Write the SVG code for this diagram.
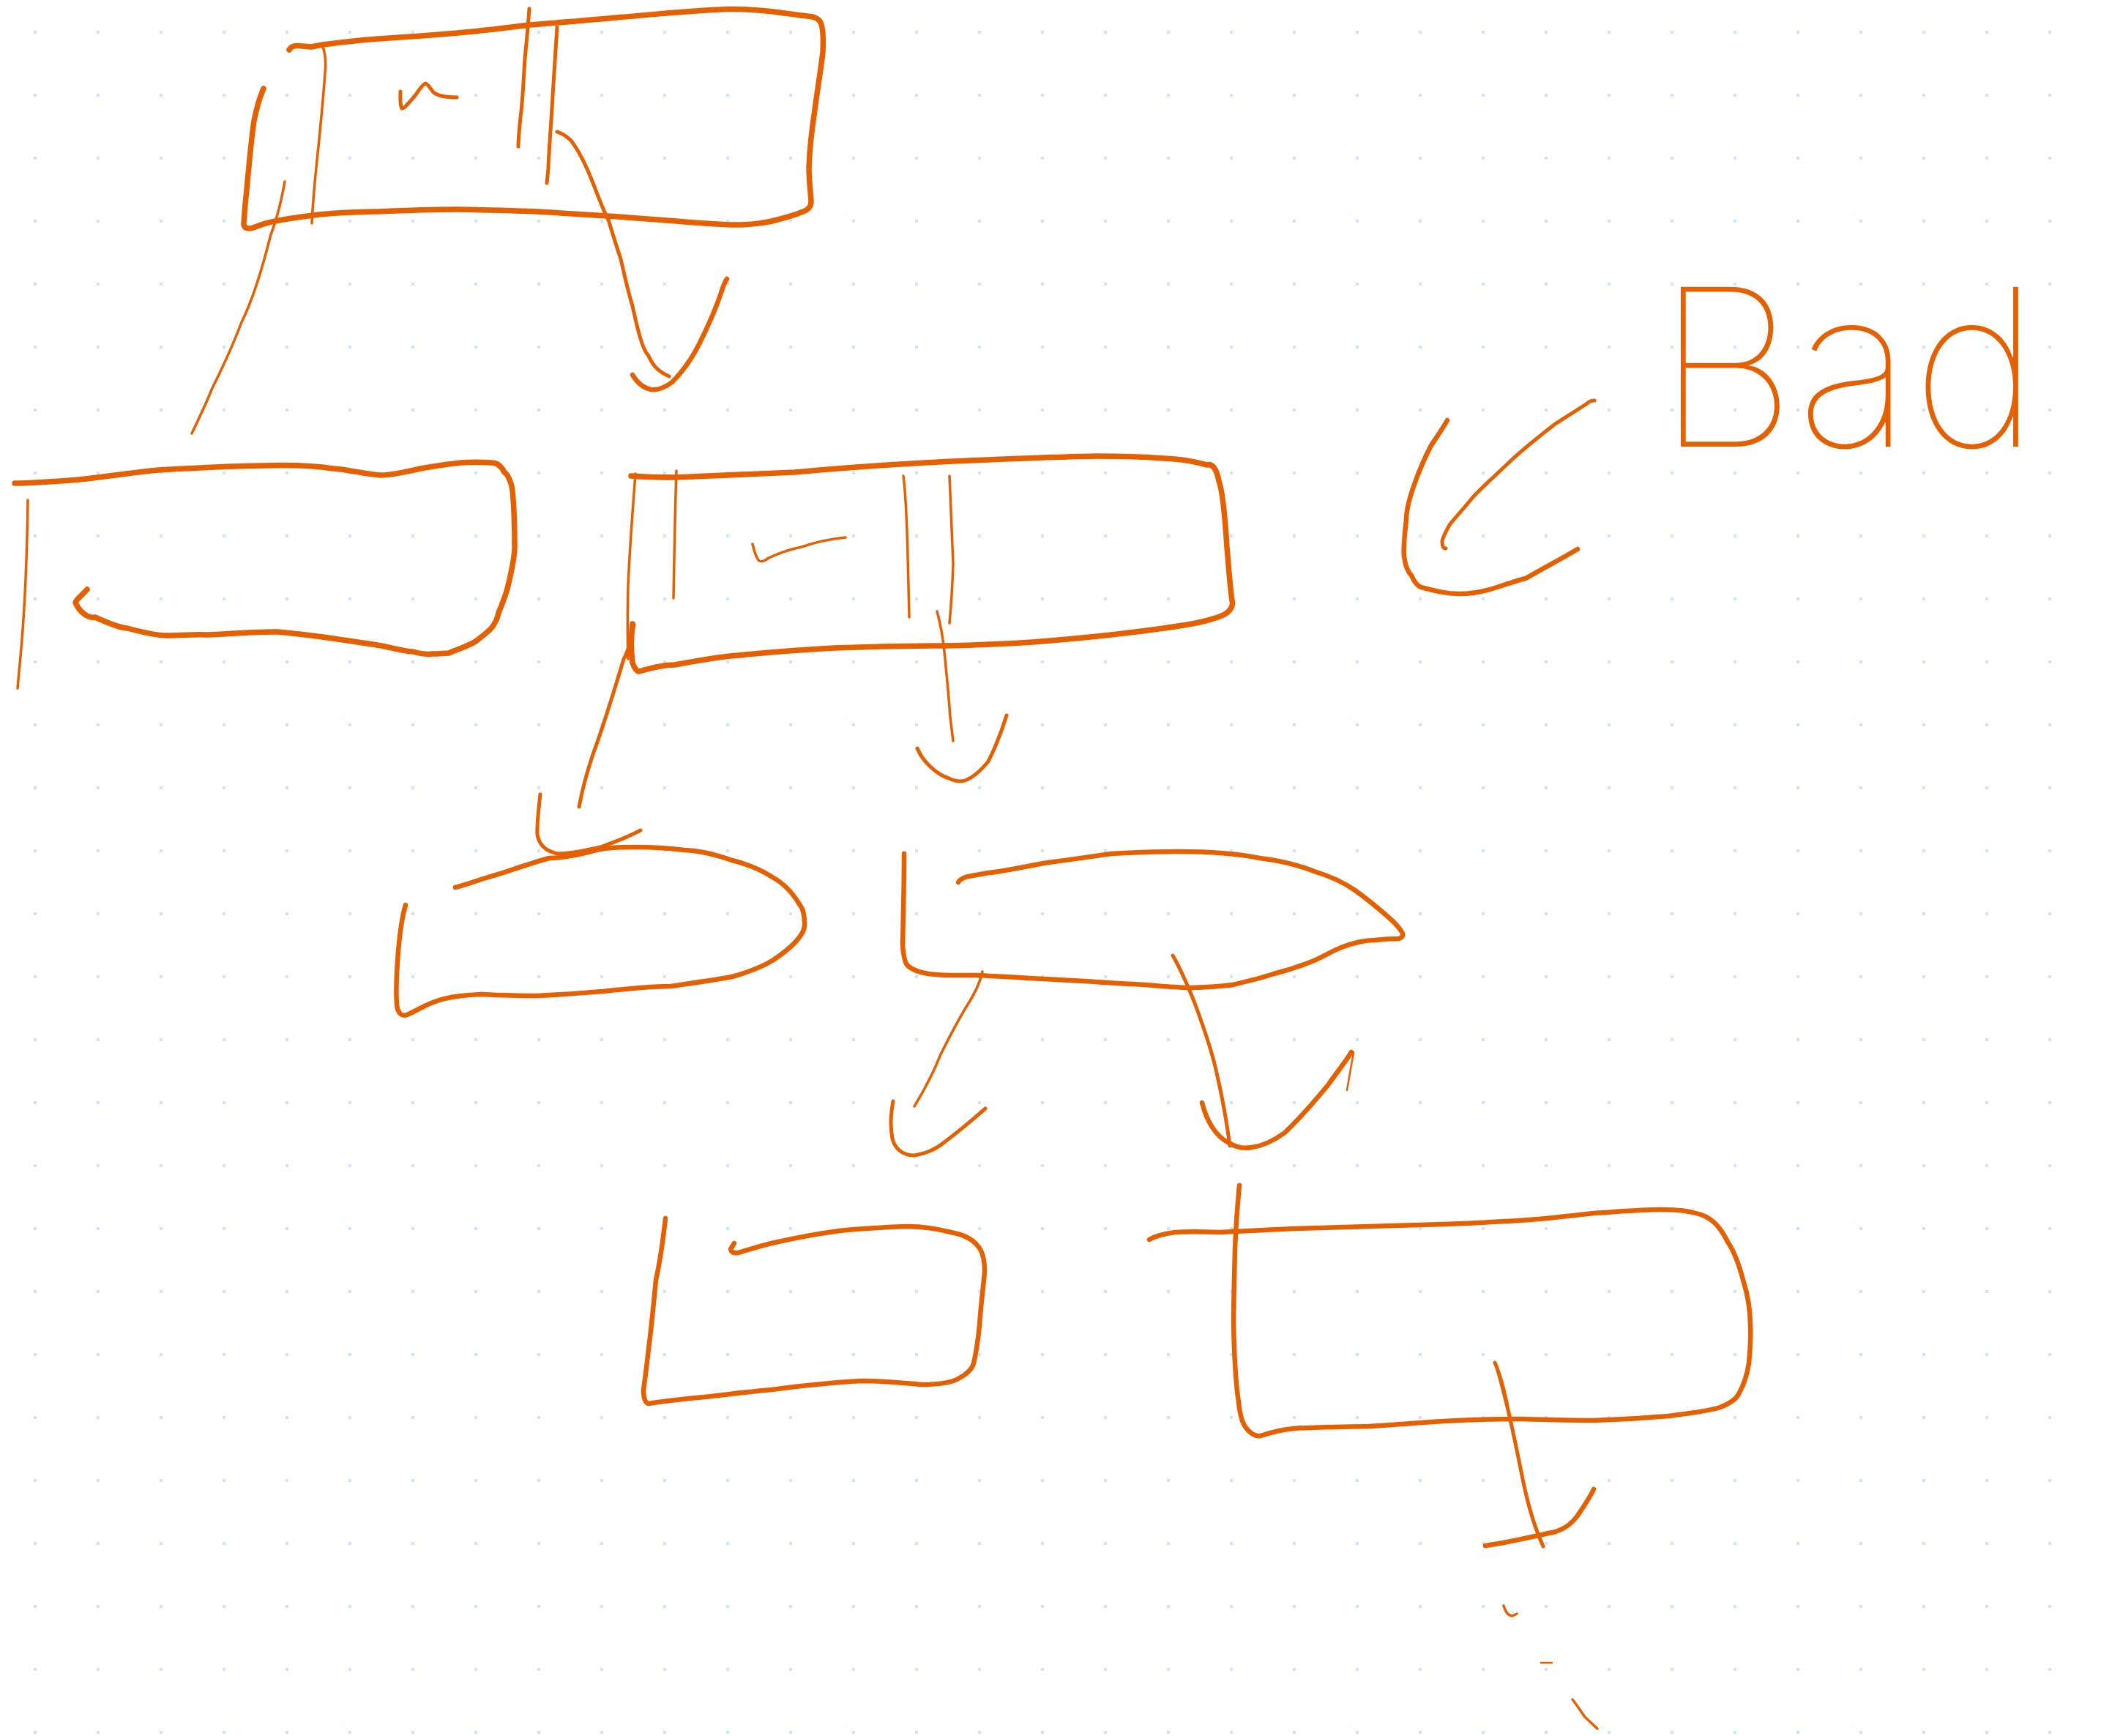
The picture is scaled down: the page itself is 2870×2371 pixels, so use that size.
<svg xmlns="http://www.w3.org/2000/svg" width="2870" height="2371" viewBox="0 0 2870 2371">
<defs>
<pattern id="dots" x="0" y="0" width="86" height="86" patternUnits="userSpaceOnUse">
<rect x="46" y="42" width="4" height="4" fill="#cfe2fb"/>
</pattern>
<style>
.s{fill:none;stroke:#e46000;stroke-linecap:round;stroke-linejoin:round}
.w6{stroke-width:7.5}
.w5{stroke-width:6.5}
.w4{stroke-width:5}
.w3{stroke-width:3.5}
.w2{stroke-width:2.5}
.lbl{font-family:Inter,"Liberation Sans",sans-serif;font-weight:100;fill:#e46000}
</style>
</defs>
<rect width="2870" height="2371" fill="#ffffff"/>
<rect width="2870" height="2371" fill="url(#dots)"/>

<g id="node-1">
<path class="s w6" d="M360,121 C356,130 350,150 347,165 C343,190 339,240 335,279 C334,292 333,302 333,307 C334,312 340,313 346,311 C356,307 370,303 376,302 C400,297 420,295 436,293 C470,290 500,289 517,289 C560,287 600,286 625,286 C680,287 710,288 734,289 C770,291 800,293 831,295 C870,298 900,300 924,302 C960,305 985,307 1005,307 C1030,307 1050,303 1054,302 C1075,297 1090,292 1097,289 C1105,286 1108,282 1108,275 C1107,260 1105,245 1105,229 C1106,200 1110,170 1113,150 C1117,120 1122,90 1124,71 C1125,50 1124,35 1120,29 C1115,23 1110,23 1103,22 C1070,18 1040,12 994,12.5 C950,14 900,19 842,24 C800,28 760,31 723,34 C690,38 660,42 625,45 C590,48 550,51 517,53 C490,55 465,58 441,61 L425,64 C412,63 404,61 399,64 C397,65 396,67 395,68"/>
<path class="s w3" d="M441,64 C445,75 445,90 444,100 C441,140 438,170 436,190 C432,230 428,260 426,305"/>
<path class="s w4" d="M547,125 C547,135 546,144 549,148 C552,149 560,138 566,132 C572,124 576,116 581,114 C584,114 588,121 592,126 C598,131 608,133 624,133"/>
<path class="s w4" d="M723,12 C721,40 719,60 717,80 C715,110 714,140 711,160 C709,180 708,195 708,200"/>
<path class="s w4" d="M761,37 C759,70 757,100 755,130 C753,170 750,200 749,230 L747,250"/>
</g>

<g id="node-2">
<path class="s w6" d="M119,805 C110,815 103,820 103,823 C108,835 120,845 130,843 C150,852 165,858 174,858 C200,865 215,868 228,868 C250,868 265,866 282,867 C320,866 350,862 380,863 C410,866 435,869 455,872 C480,876 505,879 521,882 C540,886 555,890 564,890 C575,893 585,894 591,893 C600,893 607,892 613,892 C630,885 645,880 651,875 C660,868 668,862 672,857 C677,850 680,843 681,837 C688,820 692,810 694,800 C700,775 703,760 703,747 C703,720 702,690 700,670 C699,660 694,648 689,645 C684,635 678,632 672,632 C655,631 640,631 629,632 C610,634 598,636 586,638 C565,641 540,649 521,649 C500,648 475,641 455,640 C430,636 390,635 358,636 C300,637 250,640 217,642 C180,645 140,652 108,655 C70,658 40,660 20,660"/>
<path class="s w3" d="M38,683 C37,750 34,820 31,860 C29,890 26,915 24,940"/>
</g>

<g id="node-3">
<path class="s w6" d="M864,852 C862,870 862,890 864,905 C866,912 870,917 873,917 C890,912 910,908 922,908 C950,903 980,897 1009,895 C1060,890 1100,887 1139,885 C1190,883 1240,882 1291,882 C1340,881 1380,879 1410,877 C1450,874 1490,870 1518,867 C1570,861 1610,856 1638,850 C1660,845 1672,840 1676,837 C1684,830 1684,825 1683,820 C1680,800 1678,770 1676,747 C1673,700 1670,670 1665,657 C1662,640 1656,633 1649,635 C1630,630 1620,628 1605,627 C1570,624 1530,623 1497,623 C1440,624 1370,627 1302,630 C1220,634 1140,640 1085,645 C1010,648 950,651 922,652 C895,652 875,651 862,650"/>
<path class="s w3" d="M868,647 C864,700 860,750 858,800 C857,840 857,870 858,900"/>
<path class="s w3" d="M924,643 C922,700 921,760 920,817"/>
<path class="s w3" d="M1028,743 C1030,752 1033,762 1037,766 C1042,768 1046,765 1050,762 C1065,755 1080,750 1095,747 C1115,740 1135,736 1155,734"/>
<path class="s w3" d="M1234,650 C1238,680 1239,720 1240,760 L1242,843"/>
<path class="s w3" d="M1297,650 C1299,700 1301,740 1302,770 C1301,800 1299,830 1297,851"/>
</g>

<g id="node-4">
<path class="s w5" d="M554,1236 C547,1260 544,1290 542,1330 C541,1355 541,1370 543,1378 C546,1386 550,1388 556,1386 C565,1382 572,1378 580,1374 C595,1367 610,1360 657,1358 C680,1359 705,1360 731,1360 C765,1359 795,1356 824,1354 C860,1350 890,1347 916,1347 C950,1342 980,1338 1000,1334 C1025,1327 1045,1318 1055,1312 C1070,1302 1080,1294 1087,1286 C1097,1275 1100,1268 1099,1258 C1098,1245 1096,1240 1092,1235 C1080,1215 1068,1205 1055,1198 C1040,1188 1020,1180 1000,1175 C980,1168 960,1162 935,1161 C910,1158 885,1157 870,1157 C845,1157 825,1158 815,1161 C790,1168 770,1172 750,1172 C720,1180 690,1192 667,1198 C645,1205 630,1210 622,1212"/>
</g>

<g id="node-5">
<path class="s w5" d="M1235,1166 C1235,1200 1234,1250 1233,1290 C1234,1305 1236,1315 1240,1319 C1248,1326 1258,1328 1268,1330 C1290,1333 1310,1332 1333,1332 C1360,1333 1385,1335 1407,1336 C1440,1338 1460,1339 1481,1340 C1510,1342 1540,1344 1564,1345 C1590,1347 1610,1349 1629,1349 C1655,1348 1670,1347 1684,1345 C1705,1340 1725,1335 1740,1330 C1760,1325 1780,1318 1795,1312 C1810,1305 1822,1298 1832,1294 C1848,1288 1865,1284 1878,1284 C1895,1282 1905,1282 1911,1282 C1917,1280 1917,1276 1915,1273 C1910,1265 1905,1260 1897,1253 C1880,1238 1865,1226 1851,1216 C1835,1205 1815,1196 1795,1190 C1770,1180 1745,1175 1721,1172 C1690,1166 1650,1163 1610,1163 C1570,1163 1540,1165 1518,1166 C1490,1170 1455,1175 1425,1179 C1395,1185 1370,1190 1351,1192 C1335,1195 1325,1196 1319,1198 C1313,1200 1310,1203 1309,1205"/>
</g>

<g id="node-6">
<path class="s w5" d="M909,1664 C905,1700 900,1730 896,1748 C892,1790 889,1820 886,1842 C883,1870 880,1890 879,1899 C879,1910 882,1917 886,1917 C905,1914 930,1911 952,1909 C990,1905 1020,1901 1054,1898 C1100,1892 1140,1888 1177,1886 C1210,1886 1235,1889 1258,1891 C1280,1891 1300,1888 1309,1883 C1322,1876 1328,1870 1330,1862 C1334,1845 1336,1830 1338,1810 C1340,1780 1343,1760 1345,1737 C1345,1720 1342,1708 1335,1701 C1328,1692 1315,1686 1299,1683 C1280,1678 1260,1675 1238,1675 C1210,1676 1180,1678 1156,1680 C1120,1684 1085,1691 1054,1698 C1030,1704 1015,1709 1008,1711 C1002,1712 999,1710 998,1706 L1003,1698"/>
</g>

<g id="node-7">
<path class="s w5" d="M1693,1619 C1690,1650 1688,1680 1687,1706 C1686,1750 1685,1780 1685,1810 C1686,1850 1688,1890 1692,1915 C1694,1935 1698,1945 1702,1950 C1708,1958 1715,1962 1722,1961 C1740,1955 1755,1952 1768,1951 C1800,1949 1835,1949 1870,1948 C1905,1946 1940,1943 1972,1941 C2005,1939 2040,1938 2074,1938 C2110,1939 2145,1940 2177,1940 C2210,1939 2245,1937 2279,1934 C2310,1930 2335,1927 2350,1922 C2365,1916 2372,1910 2375,1904 C2383,1890 2387,1875 2389,1862 C2391,1840 2392,1825 2391,1810 C2391,1790 2388,1770 2381,1748 C2375,1725 2368,1708 2360,1696 C2350,1676 2340,1665 2324,1659 C2305,1653 2290,1652 2268,1652 C2240,1652 2210,1655 2177,1657 C2140,1661 2110,1665 2074,1667 C2040,1669 2005,1671 1972,1672 C1935,1673 1900,1674 1870,1675 C1835,1676 1800,1677 1768,1678 C1730,1680 1700,1681 1666,1683 C1640,1682 1620,1682 1605,1683 C1590,1685 1578,1688 1570,1693"/>
</g>

<g id="connectors">
<path class="s w4" d="M761,180 C768,182 775,187 780,192 C790,205 800,225 808,245 C818,270 825,290 831,300 C840,330 845,345 848,354 C855,385 860,405 864,418 C872,455 878,478 886,486 C892,500 900,508 914,514"/>
<path class="s w5" d="M864,512 C870,522 878,530 890,532 C900,533 910,528 918,522 C930,510 945,490 955,470 C970,440 980,415 985,400 C988,390 990,385 993,381"/>
<path class="s w3" d="M389,248 C385,270 378,300 370,320 C360,360 345,410 330,440 C315,480 300,510 290,530 C280,555 270,575 262,592"/>
<path class="s w4" d="M866,853 C863,870 858,890 852,900 C840,940 825,990 810,1030 C800,1060 795,1080 791,1102"/>
<path class="s w4" d="M738,1085 C736,1105 733,1125 734,1140 C737,1155 745,1162 762,1166 C785,1166 805,1160 820,1157 C840,1150 860,1142 875,1134"/>
<path class="s w3" d="M1280,835 C1284,850 1288,870 1290,890 C1293,920 1296,950 1298,980 C1300,995 1301,1005 1302,1012"/>
<path class="s w4" d="M1253,1022 C1260,1040 1280,1058 1296,1063 C1305,1067 1312,1068 1318,1066 C1330,1062 1340,1052 1350,1040 C1360,1020 1368,1000 1375,977"/>
<path class="s w3" d="M1342,1327 C1338,1345 1330,1360 1320,1375 C1305,1400 1295,1420 1285,1440 C1275,1465 1262,1490 1249,1511"/>
<path class="s w4" d="M1220,1504 C1217,1520 1216,1540 1219,1555 C1222,1568 1232,1578 1249,1578 C1262,1576 1278,1570 1290,1560 C1310,1545 1330,1528 1346,1514"/>
<path class="s w4" d="M1602,1305 C1612,1322 1622,1345 1632,1370 C1645,1405 1657,1440 1663,1470 C1670,1500 1676,1535 1680,1565"/>
<path class="s w5" d="M1642,1506 C1648,1530 1660,1552 1679,1561 C1690,1568 1700,1569 1710,1567 C1725,1565 1740,1558 1755,1547 C1775,1528 1795,1505 1814,1482 C1826,1465 1838,1450 1846,1437"/>
<path class="s w2" d="M1849,1437 L1840,1489"/>
<path class="s w4" d="M2042,1861 C2048,1875 2054,1895 2060,1925 C2068,1960 2074,1990 2080,2020 C2088,2060 2098,2090 2108,2112"/>
<path class="s w2" d="M2042,1861 C2050,1890 2060,1930 2067,1960"/>
<path class="s w5" d="M2029,2111 C2060,2107 2100,2097 2125,2092 C2140,2087 2148,2080 2155,2070 C2165,2055 2172,2045 2177,2034"/>
<path class="s w3" d="M2054,2193 C2056,2200 2060,2207 2066,2207 L2072,2204"/>
<path class="s w2" d="M2105,2271 L2120,2271"/>
<path class="s w3" d="M2148,2321 C2152,2326 2158,2335 2165,2345 L2182,2361"/>
</g>

<g id="note">
<path class="s w5" d="M1977,574 C1968,590 1960,600 1954,610 C1944,630 1938,645 1934,656 C1925,680 1921,695 1921,710 C1918,735 1917,750 1918,760 C1920,775 1924,782 1928,786 C1932,795 1936,800 1941,802 C1960,807 1975,811 1993,811 C2015,811 2030,807 2045,802 C2060,797 2072,793 2084,790 C2110,775 2135,762 2155,750"/>
<path class="s w4" d="M2178,547 C2174,547 2170,549 2168,551 C2150,563 2135,572 2123,580 C2100,598 2080,614 2064,629 C2040,652 2025,665 2012,679 C1995,700 1985,710 1980,717 C1974,728 1970,735 1970,740 C1970,746 1972,749 1975,749"/>
<text class="lbl" x="2262" y="610" font-size="300">Bad</text>
</g>
</svg>
